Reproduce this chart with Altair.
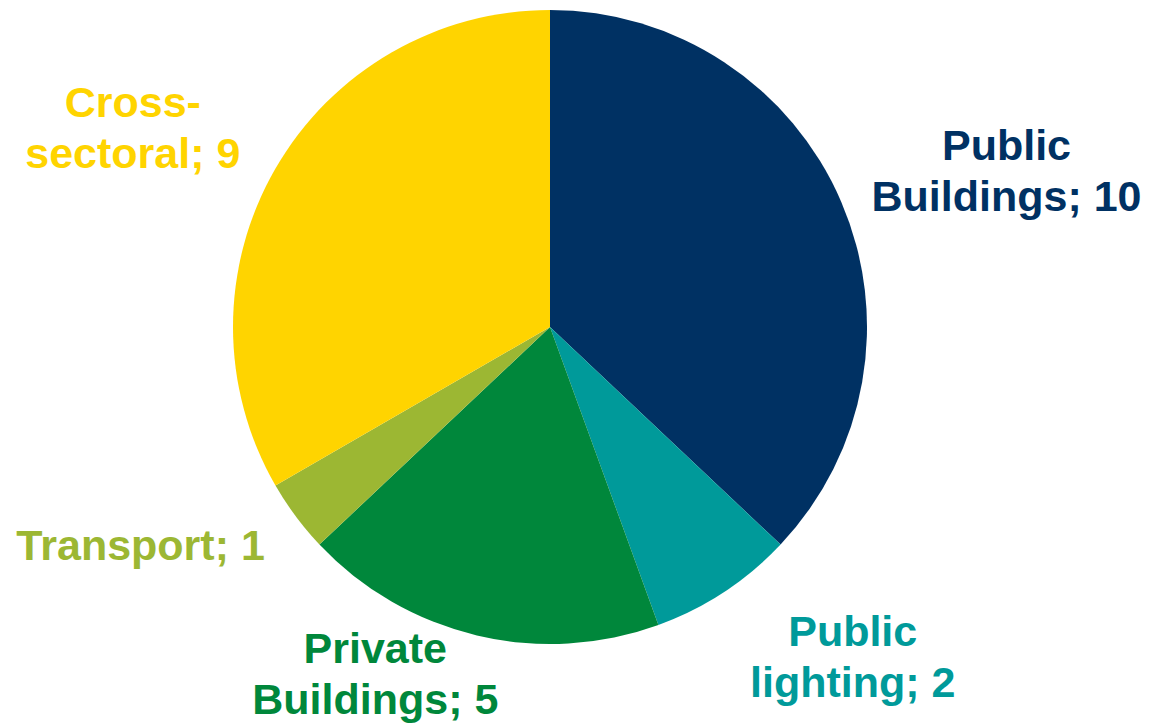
import altair as alt
import pandas as pd

# Data
categories = ["Public\nBuildings", "Public\nlighting", "Private\nBuildings", "Transport", "Cross-\nsectoral"]
values = [10, 2, 5, 1, 9]
colors = ["#003163", "#009A9A", "#00873B", "#9CB733", "#FFD400"]

df = pd.DataFrame({
    "cat": categories,
    "value": values,
    "idx": list(range(len(categories))),
})
df["label"] = [f"{c}; {v}" for c, v in zip(categories, values)]

color_scale = alt.Scale(domain=categories, range=colors)

base = alt.Chart(df).encode(
    theta=alt.Theta("value:Q", stack=True),
    order=alt.Order("idx:Q", sort="ascending"),
    color=alt.Color("cat:N", scale=color_scale, legend=None),
)

pie = base.mark_arc(outerRadius=317)

# label placement per slice: (radius, dx, dy)
placement = [
    (483, 13, 11),
    (449, 56, -69),
    (389, -85, -56),
    (463, -38, -56),
    (461, -18, 7),
]

layers = [pie]
for i, (r, dx, dy) in enumerate(placement):
    t = base.transform_calculate(
        lab=f"datum.idx == {i} ? datum.label : ''"
    ).mark_text(
        radius=r, dx=dx, dy=dy,
        font="Liberation Sans", fontSize=43, fontWeight="bold",
        lineBreak="\n", lineHeight=51, align="center", baseline="middle",
    ).encode(text=alt.Text("lab:N"))
    layers.append(t)

chart = alt.layer(*layers).properties(
    width=1100, height=654,
    autosize=alt.AutoSizeParams(type="none"),
    padding={"left": 0, "top": 0, "right": 51, "bottom": 71},
    background="white",
).configure_view(stroke=None)

chart.save("out.html", embed_options={"renderer": "svg", "actions": False})
